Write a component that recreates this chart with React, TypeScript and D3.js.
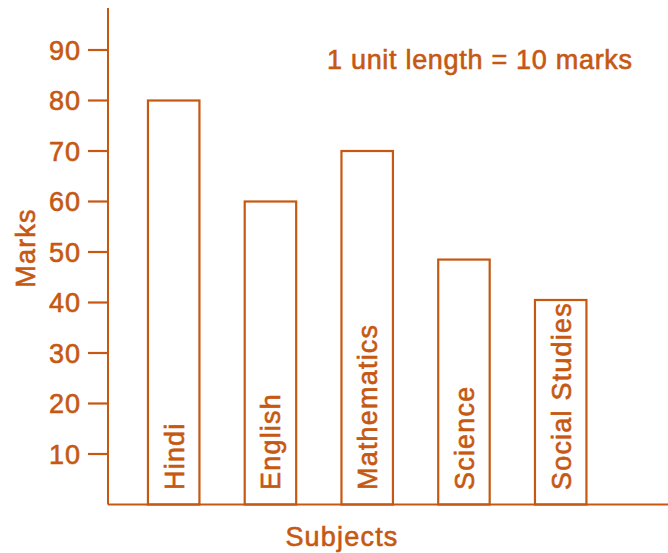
import React from "react";
import * as d3 from "d3";

const subjects = ["Hindi", "English", "Mathematics", "Science", "Social Studies"];
const marks = [80, 60, 70, 48.5, 40.5];
const yTicks = [10, 20, 30, 40, 50, 60, 70, 80, 90];
const noteText = "1 unit length = 10 marks";
const yTitle = "Marks";
const xTitle = "Subjects";

const W = 668;
const H = 553;
const COLOR = "#c65812";
const FONT = "'Liberation Sans', Arial, Helvetica, sans-serif";
const TS = 0.6;

export default function App() {
  const axisX = 108;
  const axisY = 504.5;
  const y = d3.scaleLinear().domain([0, 10]).range([axisY, axisY - 50.5]);
  const step = 96.75;
  const pI = 0.468;
  const pO = 0.413;
  const x = d3
    .scaleBand<string>()
    .domain(subjects)
    .range([axisX, axisX + step * (subjects.length - pI + 2 * pO)])
    .paddingInner(pI)
    .paddingOuter(pO);

  const textProps = { fill: COLOR, stroke: COLOR, strokeWidth: TS, fontSize: 27 };

  return (
    <svg
      width={W}
      height={H}
      style={{ position: "absolute", left: 0, top: 0, background: "#fff" }}
      fontFamily={FONT}
    >
      {/* axes */}
      <line x1={axisX} x2={axisX} y1={8} y2={axisY} stroke={COLOR} strokeWidth={2} />
      <line x1={axisX} x2={W} y1={axisY} y2={axisY} stroke={COLOR} strokeWidth={2} />
      {yTicks.map((t) => (
        <g key={t}>
          <line x1={88} x2={axisX} y1={y(t)} y2={y(t)} stroke={COLOR} strokeWidth={2.2} />
          <text x={81} y={y(t)} dy="0.36em" textAnchor="end" letterSpacing={1} {...textProps}>
            {t}
          </text>
        </g>
      ))}
      {/* bars */}
      {subjects.map((s, i) => {
        const bx = x(s)!;
        const bw = x.bandwidth();
        const cx = bx + bw / 2;
        return (
          <g key={s}>
            <rect
              x={bx}
              y={y(marks[i])}
              width={bw}
              height={axisY - y(marks[i])}
              fill="none"
              stroke={COLOR}
              strokeWidth={2.2}
            />
            <text
              transform={`translate(${cx + 10},490) rotate(-90)`}
              letterSpacing={1.2}
              {...textProps}
            >
              {s}
            </text>
          </g>
        );
      })}
      {/* titles */}
      <text
        transform={`translate(35,248) rotate(-90)`}
        textAnchor="middle"
        letterSpacing={1.2}
        {...textProps}
      >
        {yTitle}
      </text>
      <text x={342} y={546} textAnchor="middle" letterSpacing={1.2} {...textProps}>
        {xTitle}
      </text>
      <text x={327} y={69} letterSpacing={0.7} {...textProps}>
        {noteText}
      </text>
    </svg>
  );
}
